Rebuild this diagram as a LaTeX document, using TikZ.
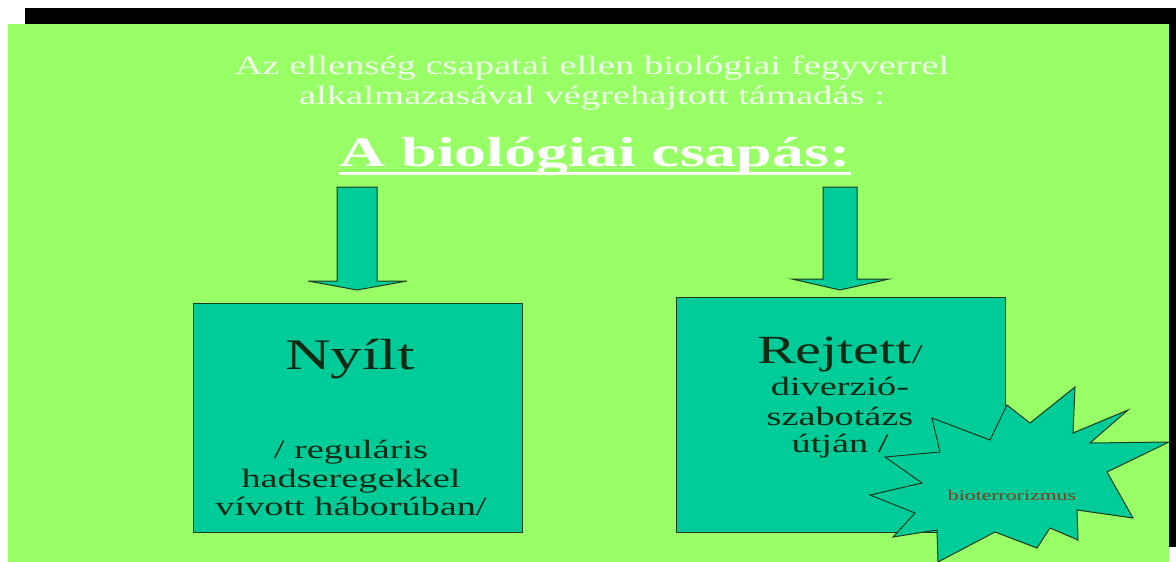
\documentclass[tikz,border=0pt]{standalone}
\usepackage{fontspec}
\setmainfont{Liberation Serif}
\usepackage{graphicx}
\definecolor{bg}{HTML}{99FF66}
\definecolor{tealfill}{HTML}{00CC99}
\definecolor{edge}{HTML}{1E3A1E}
\definecolor{ink}{HTML}{0F2A14}
\definecolor{pale}{HTML}{F0FFEA}
\definecolor{rust}{HTML}{8A3A1A}
\newcommand{\sx}[1]{\scalebox{1.45}[1]{#1}}
\newcommand{\fsz}[1]{\fontsize{#1}{#1}\selectfont}
\begin{document}
\begin{tikzpicture}[x=1pt,y=-1pt,line join=miter,
  txt/.style={inner sep=0pt,anchor=base},
  blk/.style={fill=tealfill,draw=edge,line width=1pt},
  boxnode/.style={blk,anchor=north west,inner sep=0pt}]
\useasboundingbox (0,0) rectangle (1176,562);
\fill[white] (0,0) rectangle (1176,562);
\fill[black] (25,8) rectangle (1176,547);
\fill[bg] (8,24) rectangle (1169,562);

% heading
\node[txt,text=pale] (l1) at (592,74) {\fsz{26.6}\sx{Az ellenség csapatai ellen biológiai fegyverrel}};
\node[txt,text=pale] (l2) at (592,104) {\fsz{26.6}\sx{alkalmazasával végrehajtott támadás :}};
\node[txt,text=white] (ttl) at (595,166) {\fsz{42}\scalebox{1.52}[1]{\bfseries A biológiai csapás:}};
\draw[white,line width=3pt] ([yshift=-7pt]ttl.base west) -- ([yshift=-7pt]ttl.base east);

% block arrows
\draw[blk] (337,187) -- (377,187) -- (377,281) -- (407,281) -- (357,290) -- (308,281) -- (337,281) -- cycle;
\draw[blk] (823,187) -- (857,187) -- (857,279) -- (889,279) -- (840,290) -- (792,279) -- (823,279) -- cycle;

% boxes
\node[boxnode,minimum width=329pt,minimum height=229pt] (nyb) at (193,303) {};
\node[boxnode,minimum width=329pt,minimum height=235pt] (rjb) at (676,297) {};

% left box text
\node[txt,text=ink] (ny) at (350,369) {\fsz{43.6}\sx{Nyílt}};
\node[txt,text=ink] (ny1) at (351,458) {\fsz{26.4}\sx{/ reguláris}};
\node[txt,text=ink] (ny2) at (351,487) {\fsz{26.4}\sx{hadseregekkel}};
\node[txt,text=ink] (ny3) at (351,515) {\fsz{26.4}\sx{vívott háborúban/}};

% right box text
\node[txt,text=ink] (rj) at (840,363) {\sx{\fsz{40}Rejtett\fsz{27}/}};
\node[txt,text=ink] (rj1) at (840,395) {\fsz{26.4}\sx{diverzió-}};
\node[txt,text=ink] (rj2) at (840,425) {\fsz{26.4}\sx{szabotázs}};
\node[txt,text=ink] (rj3) at (840,452) {\fsz{26.4}\sx{útján /}};

% explosion star
\draw[blk] (932,418) -- (990,440) -- (1007,405) -- (1030,423) -- (1075,387) -- (1073,433)
  -- (1128,410) -- (1090,443) -- (1169,442) -- (1107,472) -- (1133,518) -- (1077,510)
  -- (1078,540) -- (1050,528) -- (1037,548) -- (995,532) -- (938,562) -- (937,530)
  -- (893,537) -- (915,513) -- (870,495) -- (922,483) -- (885,457) -- (940,452) -- cycle;
\node[txt,text=rust] (bt) at (1012,500) {\fsz{15}\sx{bioterrorizmus}};
\end{tikzpicture}
\end{document}
